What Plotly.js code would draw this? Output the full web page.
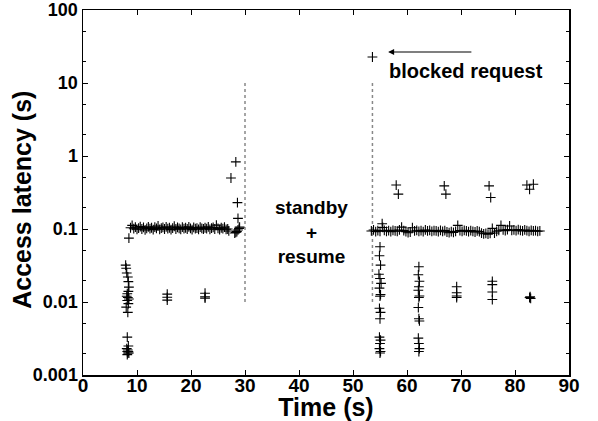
<!DOCTYPE html>
<html>
<head>
<meta charset="utf-8">
<script src="https://cdn.plot.ly/plotly-3.0.1.min.js"></script>
<style>html,body{margin:0;padding:0;background:#fff;}#chart{width:598px;height:421px;}</style>
</head>
<body>
<div id="chart"></div>
<script>
// ---- Data ----
// startup burst before steady phase
var startT = [7.9, 8.0, 8.1, 8.3, 8.4, 8.5, 8.4, 8.2, 8.1, 8.3, 8.5, 8.2, 8.4, 8.0, 8.3, 8.2, 8.4, 8.1, 8.3, 8.2, 8.4, 8.3, 8.5, 8.2, 8.5];
var startY = [0.032, 0.029, 0.025, 0.022, 0.019, 0.016, 0.014, 0.013, 0.012, 0.0115, 0.011, 0.0105, 0.0095, 0.0085, 0.0072, 0.0033, 0.0025, 0.0023, 0.0022, 0.0021, 0.0021, 0.002, 0.002, 0.0019, 0.075];

// steady band before standby
var bandLT = [8.8, 9.1, 9.4, 9.7, 10.0, 10.3, 10.6, 10.9, 11.2, 11.5,
  11.8, 12.1, 12.4, 12.7, 13.0, 13.3, 13.6, 13.9, 14.2, 14.5,
  14.8, 15.1, 15.4, 15.7, 16.0, 16.3, 16.6, 16.9, 17.2, 17.5,
  17.8, 18.1, 18.4, 18.7, 19.0, 19.3, 19.6, 19.9, 20.2, 20.5,
  20.8, 21.1, 21.4, 21.7, 22.0, 22.3, 22.6, 22.9, 23.2, 23.5,
  23.8, 24.1, 24.4, 24.7, 25.0, 25.3, 25.6, 25.9, 26.2, 26.5,
  26.8, 27.0];
var bandLY = [0.104, 0.112, 0.101, 0.106, 0.099, 0.103, 0.108, 0.100, 0.105, 0.097,
  0.102, 0.107, 0.101, 0.104, 0.098, 0.106, 0.102, 0.110, 0.099, 0.103,
  0.105, 0.100, 0.107, 0.101, 0.104, 0.098, 0.103, 0.109, 0.100, 0.105,
  0.102, 0.099, 0.106, 0.101, 0.104, 0.100, 0.107, 0.102, 0.098, 0.105,
  0.101, 0.103, 0.099, 0.106, 0.102, 0.100, 0.104, 0.101, 0.107, 0.099,
  0.103, 0.105, 0.100, 0.113, 0.102, 0.098, 0.104, 0.101, 0.106, 0.099,
  0.100, 0.094];

// sparse points before standby
var preT = [15.6, 15.6, 15.6, 22.6, 22.6, 22.6, 27.4, 28.3, 28.6, 28.7, 28.1, 28.3, 28.5, 28.7, 28.9, 29.0];
var preY = [0.0128, 0.0116, 0.0106, 0.0132, 0.0118, 0.0113, 0.5, 0.83, 0.23, 0.14, 0.088, 0.090, 0.092, 0.097, 0.102, 0.106];

// steady band after resume
var bandRT = [53.4, 53.8, 54.2, 54.6, 55.0, 55.4, 55.8, 56.2, 56.6, 57.0,
  57.4, 57.8, 58.2, 58.6, 59.0, 59.4, 59.8, 60.2, 60.6, 61.0,
  61.4, 61.8, 62.2, 62.6, 63.0, 63.4, 63.8, 64.2, 64.6, 65.0,
  65.4, 65.8, 66.2, 66.6, 67.0, 67.4, 67.8, 68.2, 68.6, 69.0,
  69.4, 69.8, 70.2, 70.6, 71.0, 71.4, 71.8, 72.2, 72.6, 73.0,
  73.4, 73.8, 74.2, 74.6, 75.0, 75.4, 75.8, 76.2, 76.6, 77.0,
  77.4, 77.8, 78.2, 78.6, 79.0, 79.4, 79.8, 80.2, 80.6, 81.0,
  81.4, 81.8, 82.2, 82.6, 83.0, 83.4, 83.8, 84.2, 84.6];
var bandRY = [0.094, 0.097, 0.092, 0.095, 0.093, 0.118, 0.096, 0.093, 0.095, 0.092,
  0.096, 0.094, 0.093, 0.097, 0.106, 0.095, 0.092, 0.089, 0.091, 0.104,
  0.094, 0.096, 0.093, 0.095, 0.092, 0.097, 0.094, 0.096, 0.093, 0.095,
  0.094, 0.092, 0.096, 0.093, 0.095, 0.091, 0.089, 0.092, 0.090, 0.093,
  0.112, 0.095, 0.093, 0.096, 0.094, 0.092, 0.095, 0.093, 0.091, 0.094,
  0.092, 0.088, 0.086, 0.087, 0.085, 0.087, 0.102, 0.088, 0.093, 0.096,
  0.112, 0.097, 0.095, 0.098, 0.110, 0.096, 0.097, 0.095, 0.098, 0.096,
  0.094, 0.097, 0.095, 0.093, 0.096, 0.094, 0.095, 0.093, 0.094];

// sparse points after resume
var postT = [53.6,
  55.0, 54.9, 55.1, 54.8, 55.0, 55.2, 54.9, 55.1, 55.0, 54.9, 55.1, 55.0, 54.9, 55.1, 55.0, 54.9, 55.1, 55.0, 55.5,
  62.2, 62.1, 62.3, 62.2, 62.1, 62.3, 62.2, 62.1, 62.2, 62.3, 62.1, 62.2, 62.3, 62.2,
  69.2, 69.2, 69.2, 69.2,
  75.8, 75.8, 75.8, 75.8,
  82.8, 82.7, 82.9,
  58.0, 58.4, 66.9, 67.2, 75.2, 75.5, 82.2, 82.7, 83.4];
var postY = [22.7,
  0.057, 0.043, 0.032, 0.024, 0.021, 0.018, 0.0155, 0.0126, 0.012, 0.0082, 0.0072, 0.0059, 0.0033, 0.003, 0.0027, 0.0023, 0.0021, 0.002, 0.105,
  0.0304, 0.0236, 0.0192, 0.0162, 0.0145, 0.0121, 0.0115, 0.0084, 0.0059, 0.0055, 0.0032, 0.0027, 0.0023, 0.0021,
  0.0162, 0.0134, 0.0121, 0.0115,
  0.0192, 0.0173, 0.0137, 0.0108,
  0.0118, 0.0115, 0.0112,
  0.40, 0.30, 0.39, 0.30, 0.39, 0.27, 0.40, 0.35, 0.41];

// standby / resume markers (vertical dotted lines)
var standbyT = [30.0, 30.0];
var resumeT = [53.6, 53.6];
var markerLineY = [0.01, 10];

var xTickVals = [0, 10, 20, 30, 40, 50, 60, 70, 80, 90];
var xTickText = ['0', '10', '20', '30', '40', '50', '60', '70', '80', '90'];
var yTickVals = [0.001, 0.01, 0.1, 1, 10, 100];
var yTickText = ['0.001', '0.01', '0.1', '1', '10', '100'];
var yMinorVals = [0.002, 0.005, 0.02, 0.05, 0.2, 0.5, 2, 5, 20, 50];

// ---- Chart ----
var FONT = 'Liberation Sans, Arial, Helvetica, sans-serif';
function bold(a) { return a.map(function (s) { return '<b>' + s + '</b>'; }); }
var mk = {symbol: 'cross-thin', size: 7, color: 'black', line: {color: 'black', width: 1.1}};
function pts(x, y) { return {x: x, y: y, type: 'scatter', mode: 'markers', marker: mk, hoverinfo: 'x+y'}; }
function vline(x) { return {x: x, y: markerLineY, type: 'scatter', mode: 'lines', line: {color: '#888', width: 1.5, dash: 'dot'}, hoverinfo: 'skip'}; }

var data = [vline(standbyT), vline(resumeT), pts(startT, startY), pts(bandLT, bandLY), pts(preT, preY), pts(bandRT, bandRY), pts(postT, postY)];

var layout = {
  width: 598, height: 421,
  margin: {l: 83, r: 29, t: 10, b: 46},
  paper_bgcolor: '#fff', plot_bgcolor: '#fff',
  showlegend: false,
  font: {family: FONT, color: 'black', size: 18},
  xaxis: {
    range: [0, 90],
    tickmode: 'array', tickvals: xTickVals, ticktext: bold(xTickText),
    showgrid: false, zeroline: false,
    showline: true, linecolor: 'black', linewidth: 1.5, mirror: 'ticks',
    ticks: 'inside', ticklen: 5, tickwidth: 1, tickcolor: 'black',
    ticklabelstandoff: -7,
    tickfont: {family: FONT, size: 19},
    title: {text: '<b>Time (s)</b>', font: {family: FONT, size: 25}, standoff: 1},
    automargin: false
  },
  yaxis: {
    type: 'log', range: [-3, 2],
    tickmode: 'array', tickvals: yTickVals, ticktext: bold(yTickText),
    showgrid: false, zeroline: false,
    showline: true, linecolor: 'black', linewidth: 1.5, mirror: 'ticks',
    ticks: 'inside', ticklen: 5, tickwidth: 1, tickcolor: 'black',
    minor: {tickmode: 'array', tickvals: yMinorVals, ticks: 'inside', ticklen: 3, tickcolor: 'black', showgrid: false},
    tickfont: {family: FONT, size: 18},
    automargin: false
  },
  annotations: [
    {xref: 'paper', yref: 'paper', x: -0.1255, y: 0.48, text: '<b>Access latency (s)</b>', textangle: -90,
     showarrow: false, xanchor: 'center', yanchor: 'middle', font: {family: FONT, size: 25}},
    {x: 42.4, y: Math.log10(0.091), text: '<b>standby</b><br><b>+</b><br><b>resume</b>', showarrow: false,
     font: {family: FONT, size: 19}},
    {x: 70.9, y: Math.log10(14.6), text: '<b>blocked request</b>', showarrow: false,
     font: {family: FONT, size: 20}},
    {x: 56.5, y: Math.log10(26.6), ax: 72.2, ay: Math.log10(26.6), axref: 'x', ayref: 'y', text: '',
     showarrow: true, arrowhead: 2, arrowsize: 1, arrowwidth: 1.2, arrowcolor: 'black', standoff: 0, startstandoff: 0}
  ]
};

Plotly.newPlot('chart', data, layout, {displayModeBar: false, staticPlot: true});
</script>
</body>
</html>
